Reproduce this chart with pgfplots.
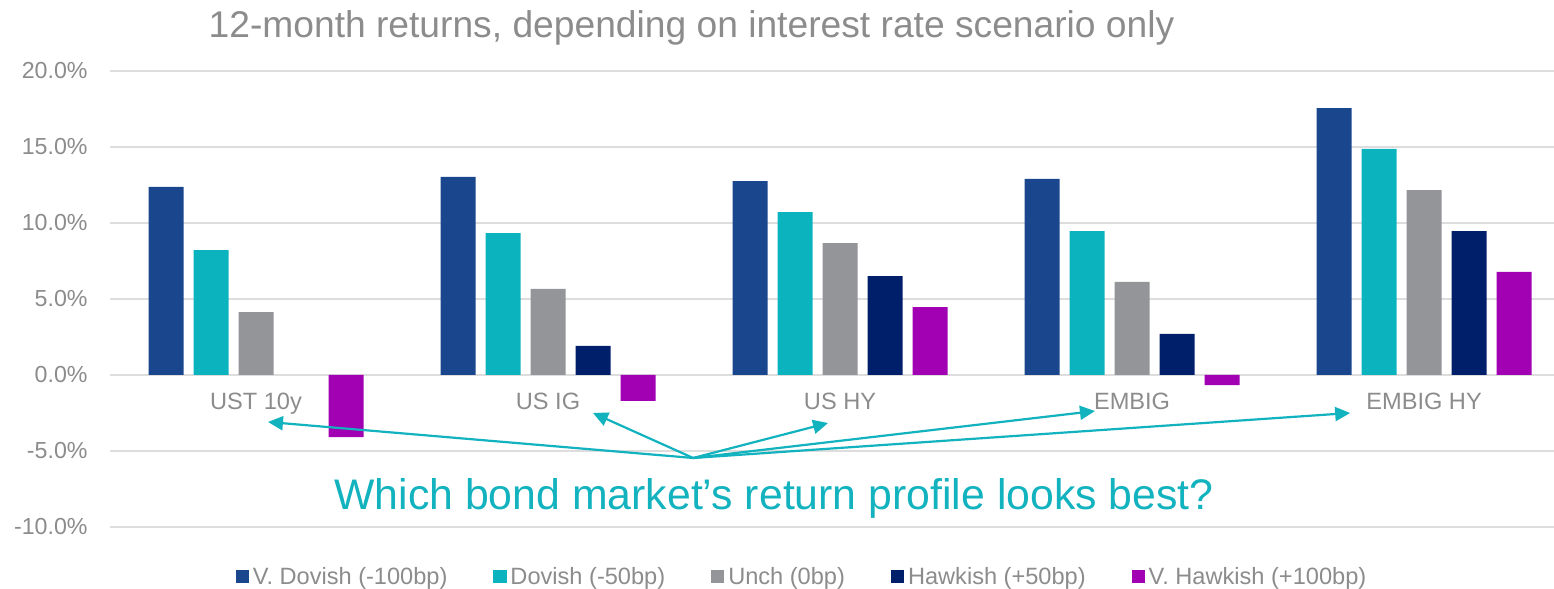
\documentclass[border=0pt]{standalone}
\usepackage{pgfplots}
\pgfplotsset{compat=1.18}
\usepackage{fontspec}
\setmainfont{Liberation Sans}
\usetikzlibrary{arrows.meta}
\definecolor{cVD}{HTML}{1A468E}
\definecolor{cD}{HTML}{0BB3BF}
\definecolor{cU}{HTML}{939598}
\definecolor{cH}{HTML}{001F6B}
\definecolor{cVH}{HTML}{A100B3}
\definecolor{cTxt}{HTML}{8C8C8C}
\definecolor{cGrid}{HTML}{DDDDDD}
\definecolor{cTeal}{HTML}{12B2BE}
\begin{document}
\begin{tikzpicture}
\useasboundingbox (0,0) rectangle (777pt,294.5pt);
\node[anchor=base, text=cTxt, font=\fontsize{18.6}{22}\selectfont, inner sep=0pt] at (345.75pt,275.5pt) {12-month returns, depending on interest rate scenario only};
\begin{axis}[
 at={(55pt,31pt)}, anchor=south west, scale only axis, width=722pt, height=228pt,
 xmin=-0.5, xmax=4.445, ymin=-10, ymax=20,
 ybar=5pt, bar width=17.5pt,
 xtick=\empty,
 ytick={-10,-5,0,5,10,15,20},
 yticklabels={-10.0\%,-5.0\%,0.0\%,5.0\%,10.0\%,15.0\%,20.0\%},
 yticklabel style={font=\fontsize{11.6}{13}\selectfont, text=cTxt, inner xsep=0pt, xshift=-11pt},
 ymajorgrids, major grid style={cGrid, line width=0.75pt},
 axis line style={draw=none}, tick style={draw=none},
 clip=false,
 legend columns=5,
 legend style={at={(0.4800,-0.1096)}, anchor=center, draw=none, fill=none,
   font=\fontsize{11.8}{13}\selectfont, text=cTxt,
   /tikz/every even column/.append style={column sep=21pt}},
 legend image code/.code={\fill[#1] (0pt,-3.25pt) rectangle (6.5pt,3.25pt);},
]
\addplot[fill=cVD, draw=none] coordinates {(0,12.37) (1,13.03) (2,12.76) (3,12.9) (4,17.55)};
\addplot[fill=cD, draw=none] coordinates {(0,8.22) (1,9.34) (2,10.72) (3,9.47) (4,14.87)};
\addplot[fill=cU, draw=none] coordinates {(0,4.14) (1,5.66) (2,8.68) (3,6.12) (4,12.17)};
\addplot[fill=cH, draw=none] coordinates {(1,1.91) (2,6.51) (3,2.7) (4,9.47)};
\addplot[fill=cVH, draw=none] coordinates {(0,-4.08) (1,-1.71) (2,4.47) (3,-0.66) (4,6.78)};
\legend{V. Dovish (-100bp), Dovish (-50bp), Unch (0bp), Hawkish (+50bp), V. Hawkish (+100bp)}
\foreach \i/\lab in {0/UST 10y, 1/US IG, 2/US HY, 3/EMBIG, 4/EMBIG HY}{
  \edef\temp{\noexpand\node[anchor=base, text=cTxt, font=\noexpand\fontsize{11.8}{13}\noexpand\selectfont, inner sep=0pt] at (axis cs:\i,-2.3) {\lab};}
  \temp
}
\draw[cTeal, line width=1.1pt, -{Triangle[length=7.5pt,width=7pt]}] (axis cs:1.497,-5.46) -- (axis cs:0.041,-3.09);
\draw[cTeal, line width=1.1pt, -{Triangle[length=7.5pt,width=7pt]}] (axis cs:1.497,-5.46) -- (axis cs:1.154,-2.5);
\draw[cTeal, line width=1.1pt, -{Triangle[length=7.5pt,width=7pt]}] (axis cs:1.497,-5.46) -- (axis cs:1.959,-3.16);
\draw[cTeal, line width=1.1pt, -{Triangle[length=7.5pt,width=7pt]}] (axis cs:1.497,-5.46) -- (axis cs:2.873,-2.37);
\draw[cTeal, line width=1.1pt, -{Triangle[length=7.5pt,width=7pt]}] (axis cs:1.497,-5.46) -- (axis cs:3.747,-2.5);
\node[anchor=base, text=cTeal, font=\fontsize{21.4}{25}\selectfont, inner sep=0pt] at (axis cs:1.774,-8.82) {Which bond market’s return profile looks best?};
\end{axis}
\end{tikzpicture}
\end{document}
